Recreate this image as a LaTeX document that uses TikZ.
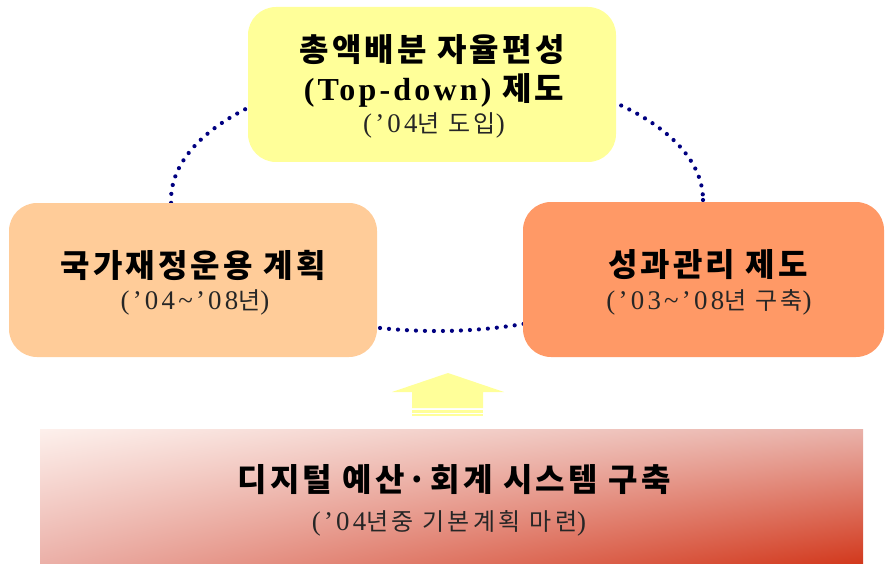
\documentclass[tikz,border=0pt]{standalone}
\usepackage{fontspec}
\setmainfont{Noto Sans CJK KR}
\newfontfamily\ttlfont{Noto Sans CJK KR}[LetterSpace=10]
\newfontfamily\ttllat{Liberation Serif}[LetterSpace=10]
\newfontfamily\subfont{Noto Sans CJK KR}[LetterSpace=14]
\newfontfamily\sublat{Liberation Serif}[LetterSpace=12,Scale=1.12]
\usetikzlibrary{calc,shadings}
\definecolor{boxyellow}{HTML}{FFFF99}
\definecolor{boxpeach}{HTML}{FFCC99}
\definecolor{boxorange}{HTML}{FF9966}
\definecolor{dotnavy}{HTML}{000080}
\definecolor{gUL}{HTML}{FDF0EC}
\definecolor{gUR}{HTML}{E9B2AA}
\definecolor{gLL}{HTML}{EBB0A8}
\definecolor{gLR}{HTML}{D2381C}
\tikzset{
  box/.style={draw=none, rounded corners=28pt, inner sep=0pt},
  ttl/.style={font=\ttlfont\fontsize{32}{38}\selectfont\bfseries, inner sep=0pt, text=black},
  sub/.style={font=\subfont\fontsize{24}{28}\selectfont, inner sep=0pt, text=black!85},
}
\begin{document}
\begin{tikzpicture}[x=1pt,y=-1pt]
\useasboundingbox (0,0) rectangle (885,564);
% dotted cycle behind the boxes
\draw[dotnavy, line width=4.2pt, line cap=round, dash pattern=on 0pt off 9pt]
  (437,200) ellipse [x radius=266, y radius=131];
% boxes
\node[box, fill=boxyellow, minimum width=368pt, minimum height=155pt] (top) at (432,84.5) {};
\node[box, fill=boxpeach, minimum width=368pt, minimum height=154pt] (left) at (193,280) {};
\node[box, fill=boxorange, minimum width=361pt, minimum height=155pt] (right) at (703.5,279.5) {};
% arrow
\fill[boxyellow] (392,392) -- (448,373) -- (504,392) -- (483,392) -- (483,408) -- (412,408) -- (412,392) -- cycle;
\fill[boxyellow] (412,410) rectangle (483,413);
\fill[boxyellow] (412,414) rectangle (483,416);
% bottom shaded box
\node[shade, upper left=gUL, upper right=gUR, lower left=gLL, lower right=gLR,
  minimum width=823pt, minimum height=135pt, inner sep=0pt] (bottom) at (451.5,496.5) {};
% texts
\node[ttl] (t1) at (432,50) {총액배분 자율편성};
\node[ttl] (t2) at (434,90) {{\ttllat (Top-down)} 제도};
\node[sub] (t3) at (434,125) {{\sublat (’04}년 도입{\sublat )}};
\node[ttl] (l1) at (193,265) {국가재정운용 계획};
\node[sub] (l2) at (195,302) {{\sublat (’04\textasciitilde’08}년{\sublat )}};
\node[ttl] (r1) at (708,265) {성과관리 제도};
\node[sub] (r2) at (709,302) {{\sublat (’03\textasciitilde’08}년 구축{\sublat )}};
\node[ttl] (b1) at (454,480) {디지털 예산·회계 시스템 구축};
\node[sub] (b2) at (449,523) {{\sublat (’04}년중 기본계획 마련{\sublat )}};
\end{tikzpicture}
\end{document}
